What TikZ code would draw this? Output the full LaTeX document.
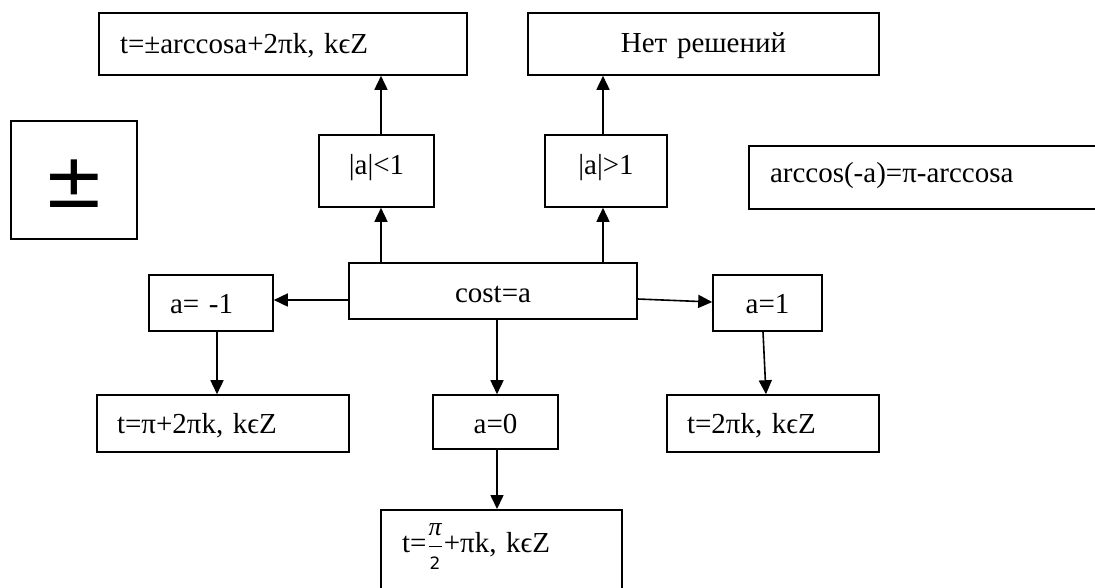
\documentclass[tikz,border=0pt]{standalone}
\usepackage{amsmath}
\usepackage{fontspec}
\setmainfont{Liberation Serif}
\newfontfamily\djv{DejaVu Sans}
\usetikzlibrary{arrows.meta}
\newcommand{\pihalf}{\kern1pt$\genfrac{}{}{0.9pt}{0}{\hbox{\fontsize{26}{26}\selectfont\itshape π}}{\hbox{\djv\fontsize{17}{17}\selectfont 2}}$\kern1pt}
\begin{document}
\frenchspacing
\begin{tikzpicture}[x=1pt,y=-1pt,
  bx/.style={draw, line width=1.6pt, inner ysep=0pt, font=\fontsize{29}{34}\selectfont},
  lbox/.style={bx, align=left, inner xsep=21pt},
  cbox/.style={bx, align=center, inner xsep=0pt},
  arr/.style={line width=1.6pt, -{Triangle[length=14pt,width=13pt]}}]
\useasboundingbox (0,0) rectangle (1095,587);
% top row
\node[lbox, text width=326pt, text height=40pt, text depth=22pt] (tl) at (283,44) {t=±arccosa+2πk, kϵZ};
\node[cbox, text width=351pt, text height=39pt, text depth=23pt] (nr) at (703.5,44) {Нет решений};
% plus-minus box
\node[draw, line width=1.6pt, minimum width=126pt, minimum height=118pt, inner sep=0pt] (pm) at (74,180) {};
\node[inner sep=0pt, font=\djv\fontsize{76}{76}\selectfont] (pmsign) at (74.5,184) {±};
% conditions
\node[cbox, text width=115pt, text height=39pt, text depth=33pt] (lt) at (376.5,171) {|a|<1};
\node[cbox, text width=122pt, text height=39pt, text depth=33pt] (gt) at (606,171) {|a|>1};
\node[lbox, text width=358pt, text height=36pt, text depth=27pt] (ac) at (949,177.5) {arccos(-a)=π-arccosa};
% middle row
\node[cbox, text width=288pt, text height=39pt, text depth=17pt] (cs) at (493,291) {cost=a};
\node[lbox, text width=82pt, text height=38pt, text depth=18pt] (m1) at (211,303) {a= -1};
\node[cbox, text width=109pt, text height=38pt, text depth=18pt] (p1) at (767.5,303) {a=1};
% lower row
\node[lbox, inner xsep=20pt, text width=212pt, text height=38pt, text depth=19pt] (tp) at (223,423.5) {t=π+2πk, kϵZ};
\node[cbox, text width=125pt, text height=38pt, text depth=16pt] (z0) at (495.5,422) {a=0};
\node[lbox, inner xsep=20pt, text width=172pt, text height=38pt, text depth=19pt] (t2) at (773,423.5) {t=2πk, kϵZ};
\node[lbox, anchor=north, text width=199pt, text height=43pt, text depth=60pt] (th) at (501.5,509) {t=\pihalf+πk, kϵZ};
% connectors
\draw[arr] ([xshift=-112pt]cs.north) -- ([xshift=4.5pt]lt.south);
\draw[arr] ([xshift=4.5pt]lt.north) -- ([xshift=98pt]tl.south);
\draw[arr] ([xshift=110pt]cs.north) -- ([xshift=-3pt]gt.south);
\draw[arr] ([xshift=-3pt]gt.north) -- ([xshift=-100.5pt]nr.south);
\draw[arr] ([yshift=-9pt]cs.west) -- ([yshift=3pt]m1.east);
\draw[arr] ([yshift=-8pt]cs.east) -- ([yshift=1pt]p1.west);
\draw[arr] ([xshift=6pt]m1.south) -- ([xshift=-6pt]tp.north);
\draw[arr] ([xshift=4pt]cs.south) -- ([xshift=1.5pt]z0.north);
\draw[arr] ([xshift=-4.5pt]p1.south) -- ([xshift=-7pt]t2.north);
\draw[arr] ([xshift=1.5pt]z0.south) -- ([xshift=-4.5pt]th.north);
\end{tikzpicture}
\end{document}
